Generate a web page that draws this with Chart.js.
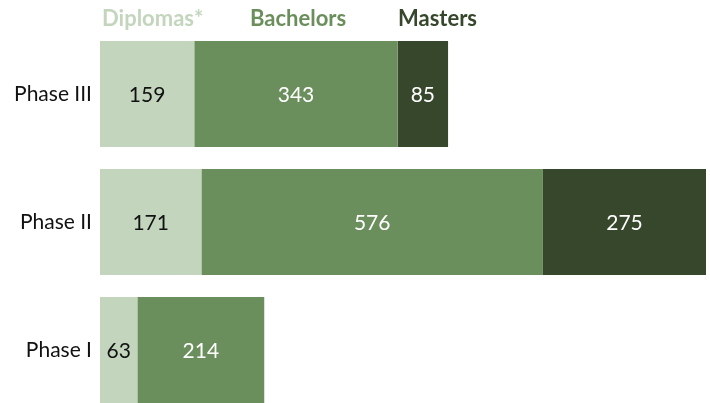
<!DOCTYPE html>
<html>
<head>
<meta charset="utf-8">
<script src="https://cdn.jsdelivr.net/npm/chart.js@4"></script>
<style>
html,body{margin:0;padding:0;background:#fff;overflow:hidden;}
canvas{display:block;}
</style>
</head>
<body>
<canvas id="c" width="710" height="440" style="width:710px;height:440px;"></canvas>
<script>
const categories = ["Phase III", "Phase II", "Phase I"];
const seriesNames = ["Diplomas*", "Bachelors", "Masters"];
const diplomas = [159, 171, 63];
const bachelors = [343, 576, 214];
const masters = [85, 275, 0];
const colors = ["#c3d6bd", "#6b8f5c", "#36472c"];
const labelColors = ["#111111", "#ffffff", "#ffffff"];
const FONT = "Lato, 'Open Sans', sans-serif";

const valueLabels = {
  id: 'valueLabels',
  afterDatasetsDraw(chart) {
    const ctx = chart.ctx;
    ctx.save();
    ctx.font = "21px " + FONT;
    ctx.textAlign = 'center';
    ctx.textBaseline = 'middle';
    chart.data.datasets.forEach((ds, di) => {
      const meta = chart.getDatasetMeta(di);
      meta.data.forEach((bar, i) => {
        const v = ds.data[i];
        if (!v) return;
        const p = bar.getProps(['x', 'y', 'base'], true);
        ctx.fillStyle = labelColors[di];
        ctx.fillText(String(v), (p.x + p.base) / 2, p.y + 1);
      });
    });
    ctx.restore();
  }
};

const textLegend = {
  id: 'textLegend',
  afterDraw(chart) {
    const ctx = chart.ctx;
    ctx.save();
    ctx.font = "bold 22px " + FONT;
    ctx.textAlign = 'left';
    ctx.textBaseline = 'middle';
    const x0 = chart.chartArea.left + 2;
    const step = 148;
    chart.data.datasets.forEach((ds, di) => {
      ctx.fillStyle = colors[di];
      ctx.fillText(ds.label, x0 + di * step, 19);
    });
    ctx.restore();
  }
};

new Chart(document.getElementById('c'), {
  type: 'bar',
  data: {
    labels: categories,
    datasets: [
      { label: seriesNames[0], data: diplomas, backgroundColor: colors[0] },
      { label: seriesNames[1], data: bachelors, backgroundColor: colors[1] },
      { label: seriesNames[2], data: masters, backgroundColor: colors[2] }
    ]
  },
  options: {
    indexAxis: 'y',
    responsive: false,
    animation: false,
    devicePixelRatio: 1,
    layout: { padding: { top: 30, right: 4, bottom: 26, left: 0 } },
    datasets: { bar: { barPercentage: 0.828, categoryPercentage: 1, borderWidth: 0 } },
    plugins: { legend: { display: false }, tooltip: { enabled: false } },
    scales: {
      x: { stacked: true, display: false, min: 0, max: 1022 },
      y: {
        stacked: true,
        grid: { display: false, drawTicks: false },
        border: { display: false },
        ticks: { color: '#111111', font: { family: FONT, size: 21 }, padding: 8 },
        afterFit(scale) { scale.width = 100; }
      }
    }
  },
  plugins: [valueLabels, textLegend]
});
</script>
</body>
</html>
